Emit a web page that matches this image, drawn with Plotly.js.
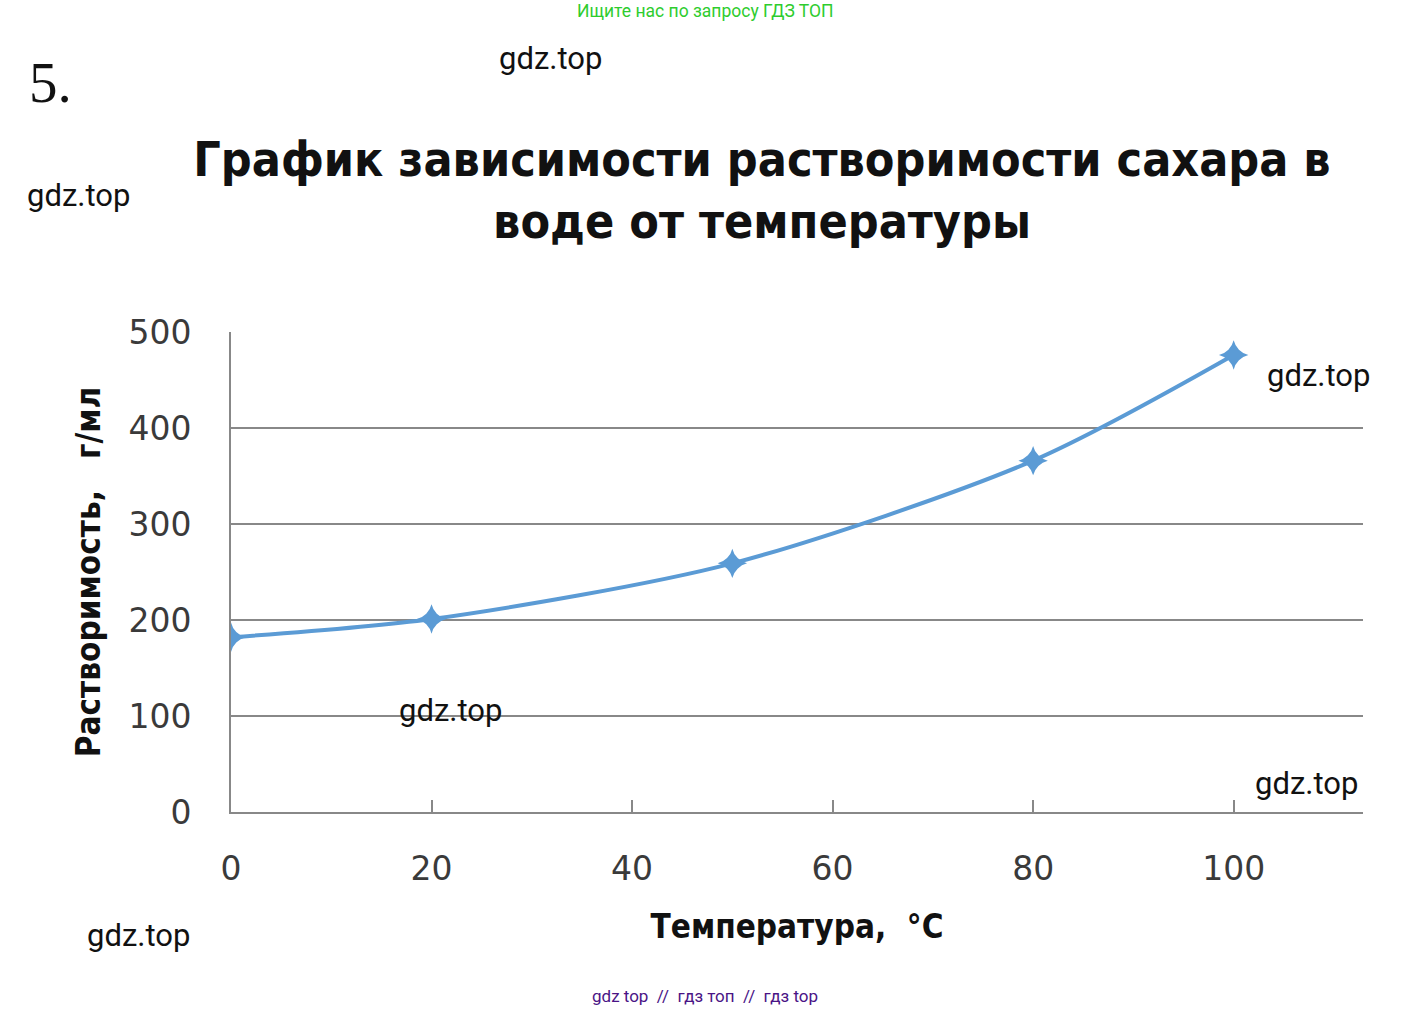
<!DOCTYPE html>
<html>
<head>
<meta charset="utf-8">
<script src="https://cdn.plot.ly/plotly-3.0.1.min.js"></script>
<style>html,body{margin:0;padding:0;background:#fff;}#chart{width:1413px;height:1011px;}</style>
</head>
<body>
<div id="chart"></div>
<script>
// Data
const temperature = [0, 20, 50, 80, 100];
const solubility = [182, 201, 259, 366, 476];
const xTicks = [0, 20, 40, 60, 80, 100];
const yTicks = [0, 100, 200, 300, 400, 500];
const chartTitle = "График зависимости растворимости сахара в<br>воде от температуры";
const xTitle = "Температура,  °C";
const yTitle = "Растворимость,   г/мл";
const watermark = "gdz.top";
const topNote = "Ищите нас по запросу ГДЗ ТОП";
const bottomNote = "gdz top  //  гдз топ  //  гдз top";
const taskNumber = "5.";

const blue = "#5B9BD5";
const gridGray = "#888888";
const condensed = "'DejaVu Sans Condensed', 'DejaVu Sans', sans-serif";

const trace = {
  x: temperature,
  y: solubility,
  type: "scatter",
  mode: "lines+markers",
  line: {color: blue, width: 4, shape: "spline", smoothing: 0.8},
  marker: {symbol: "star-diamond", size: 21, color: blue, line: {width: 0}},
  hoverinfo: "x+y"
};

const wmPositions = [[550, 59], [78, 195], [1318, 375], [450, 710], [1306, 783], [138, 935]];
const annotations = wmPositions.map(p => ({
  text: watermark, xref: "paper", yref: "paper",
  x: (p[0] - 231) / (1363 - 231), y: (812 - p[1]) / (812 - 332),
  xanchor: "center", yanchor: "middle", showarrow: false,
  font: {family: "Roboto, sans-serif", size: 31, color: "#111"}
}));
annotations.push({
  text: topNote, xref: "paper", yref: "paper",
  x: (705 - 231) / 1132, y: (812 - 11) / 480, xanchor: "center", yanchor: "middle",
  showarrow: false, font: {family: "Roboto, sans-serif", size: 17.5, color: "#2ecc2e"}
});
annotations.push({
  text: bottomNote, xref: "paper", yref: "paper",
  x: (705 - 231) / 1132, y: (812 - 996) / 480, xanchor: "center", yanchor: "middle",
  showarrow: false, font: {family: "Roboto, sans-serif", size: 17, color: "#4a1486"}
});
annotations.push({
  text: taskNumber, xref: "paper", yref: "paper",
  x: (27 - 231) / 1132, y: (812 - 83) / 480, xanchor: "left", yanchor: "middle",
  showarrow: false, font: {family: "'Liberation Serif', 'DejaVu Serif', serif", size: 57, color: "#111"}
});

const layout = {
  width: 1413, height: 1011,
  paper_bgcolor: "#fff", plot_bgcolor: "#fff",
  margin: {l: 231, r: 50, t: 332, b: 199},
  showlegend: false,
  title: {
    text: "<b>" + chartTitle + "</b>",
    x: 762 / 1413, xanchor: "center", xref: "container",
    y: 1 - 176 / 1011, yanchor: "top", yref: "container",
    font: {family: condensed, size: 48, color: "#111"}
  },
  xaxis: {
    range: [0, 112.9],
    tickvals: xTicks,
    ticks: "inside", ticklen: 12, tickwidth: 2, tickcolor: gridGray,
    showline: true, linecolor: gridGray, linewidth: 2,
    showgrid: false, zeroline: false,
    ticklabelstandoff: 26,
    tickfont: {family: "'DejaVu Sans', sans-serif", size: 33, color: "#3a3a3a"},
    title: {text: "<b>" + xTitle + "</b>", standoff: 28,
      font: {family: condensed, size: 33, color: "#111"}}
  },
  yaxis: {
    range: [0, 500],
    tickvals: yTicks,
    ticks: "",
    showline: true, linecolor: gridGray, linewidth: 2,
    showgrid: true, gridcolor: gridGray, gridwidth: 2,
    zeroline: false,
    ticklabelstandoff: 31,
    tickfont: {family: "'DejaVu Sans', sans-serif", size: 33, color: "#3a3a3a"},
    title: {text: "<b>" + yTitle + "</b>", standoff: 18,
      font: {family: condensed, size: 33, color: "#111"}}
  },
  annotations: annotations
};

Plotly.newPlot("chart", [trace], layout, {displayModeBar: false, responsive: false});
</script>
</body>
</html>
